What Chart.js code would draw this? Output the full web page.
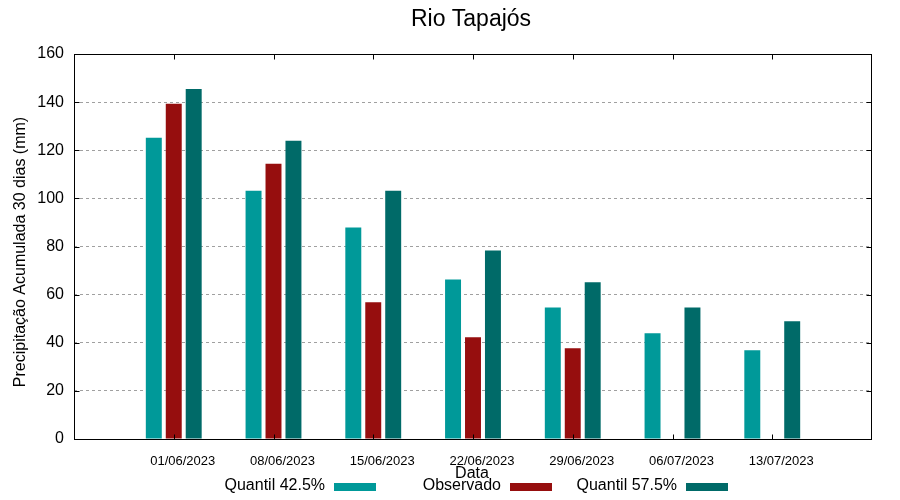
<!DOCTYPE html>
<html lang="pt">
<head>
    <meta charset="UTF-8">
    <title>Rio Tapajós</title>
    <script src="https://cdn.jsdelivr.net/npm/chart.js"></script>
    <style>
        body { margin: 0; background: #fff; }
    </style>
</head>
<body>
    <canvas id="chart" width="900" height="500"></canvas>

    <script>
        // valores
        const datas = ['01/06/2023', '08/06/2023', '15/06/2023', '22/06/2023', '29/06/2023', '06/07/2023', '13/07/2023'];
        const quantil425 = [125.2, 103.2, 87.9, 66.3, 54.7, 43.9, 36.9];
        const observado = [139.3, 114.4, 56.8, 42.3, 37.7, null, null];
        const quantil575 = [145.5, 123.9, 103.2, 78.3, 65.1, 54.7, 48.9];
        const yTicks = [0, 20, 40, 60, 80, 100, 120, 140, 160];

        const FONT = 'Liberation Sans, Arial, sans-serif';

        // uma categoria vazia em cada ponta, como no gnuplot (xrange -1..7)
        const pad = arr => [null, ...arr, null];

        const boxPlugin = {
            id: 'boxPlugin',
            afterDraw(chart) {
                const ctx = chart.ctx;
                const a = chart.chartArea;
                const x = chart.scales.x;
                const y = chart.scales.y;
                const L = Math.round(a.left) + 0.5, R = Math.round(a.right) - 0.5;
                const T = Math.round(a.top) + 0.5, B = Math.round(a.bottom) + 0.5;
                ctx.save();
                ctx.strokeStyle = '#000';
                ctx.lineWidth = 1;
                ctx.beginPath();
                // marcas do eixo x (embaixo e espelhadas em cima)
                for (let i = 1; i <= datas.length; i++) {
                    const px = Math.round(x.getPixelForTick(i)) + 0.5;
                    ctx.moveTo(px, B); ctx.lineTo(px, B - 5);
                    ctx.moveTo(px, T); ctx.lineTo(px, T + 5);
                }
                // marcas do eixo y (esquerda e direita)
                yTicks.forEach(v => {
                    const py = Math.round(y.getPixelForValue(v)) + 0.5;
                    ctx.moveTo(L, py); ctx.lineTo(L + 5, py);
                    ctx.moveTo(R, py); ctx.lineTo(R - 5, py);
                });
                ctx.stroke();
                // moldura
                ctx.strokeRect(L, T, R - L, B - T);
                // titulo
                ctx.fillStyle = '#000';
                ctx.textAlign = 'center';
                ctx.textBaseline = 'middle';
                ctx.font = '23px ' + FONT;
                ctx.fillText('Rio Tapajós', 471, 20);
                // titulo eixo x
                ctx.font = '16px ' + FONT;
                ctx.fillText('Data', 472, 474);
                // titulo eixo y
                ctx.save();
                ctx.translate(21, 252);
                ctx.rotate(-Math.PI / 2);
                ctx.fillText('Precipitação Acumulada 30 dias (mm)', 0, 0);
                ctx.restore();
                // legenda estilo gnuplot: texto e depois a amostra
                chart.data.datasets.forEach((ds, i) => {
                    const tx = 325 + 176 * i;
                    ctx.textAlign = 'right';
                    ctx.fillStyle = '#000';
                    ctx.fillText(ds.label, tx, 486);
                    ctx.fillStyle = ds.backgroundColor;
                    ctx.fillRect(tx + 9, 483, 42, 8);
                });
                ctx.restore();
            }
        };

        new Chart(document.getElementById('chart'), {
            type: 'bar',
            data: {
                labels: pad(datas).map(d => d || ''),
                datasets: [
                    { label: 'Quantil 42.5%', data: pad(quantil425), backgroundColor: '#009999' },
                    { label: 'Observado', data: pad(observado), backgroundColor: '#960e0e' },
                    { label: 'Quantil 57.5%', data: pad(quantil575), backgroundColor: '#006a68' }
                ]
            },
            options: {
                responsive: false,
                animation: false,
                layout: { padding: { top: 54, right: 28, left: 0, bottom: 0 } },
                datasets: { bar: { categoryPercentage: 0.6, barPercentage: 0.8, borderWidth: 0, inflateAmount: 0 } },
                plugins: {
                    legend: { display: false },
                    title: { display: false },
                    tooltip: { enabled: false }
                },
                scales: {
                    x: {
                        offset: false,
                        border: { display: false },
                        grid: { display: false },
                        ticks: {
                            autoSkip: false, maxRotation: 0, minRotation: 0,
                            color: '#000', font: { family: FONT, size: 13 },
                            padding: 7, labelOffset: 9
                        },
                        afterFit(scale) { scale.height = 61; }
                    },
                    y: {
                        min: 0, max: 160,
                        afterBuildTicks(scale) { scale.ticks = yTicks.map(v => ({ value: v })); },
                        border: { display: false, dash: [3, 3] },
                        grid: {
                            drawTicks: false,
                            color: ctx => (ctx.tick && (ctx.tick.value === 0 || ctx.tick.value === 160)) ? 'rgba(0,0,0,0)' : '#a0a0a0',
                            lineWidth: 1
                        },
                        ticks: { color: '#000', font: { family: FONT, size: 16 }, padding: 10 },
                        afterFit(scale) { scale.width = 74; }
                    }
                }
            },
            plugins: [boxPlugin]
        });
    </script>
</body>
</html>
